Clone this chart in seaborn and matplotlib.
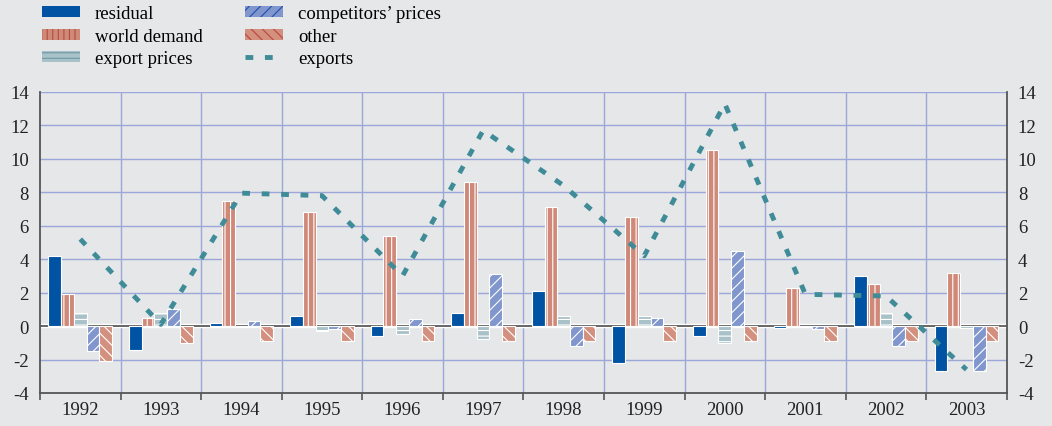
import seaborn as sns
import numpy as np
import pandas as pd
import matplotlib.pyplot as plt
from matplotlib.patches import Patch
from matplotlib.lines import Line2D

years = ['1992', '1993', '1994', '1995', '1996', '1997', '1998', '1999', '2000', '2001', '2002', '2003']
residual = [4.2, -1.4, 0.2, 0.6, -0.6, 0.8, 2.1, -2.2, -0.6, -0.1, 3.0, -2.7]
world_demand = [1.9, 0.5, 7.5, 6.8, 5.4, 8.6, 7.1, 6.5, 10.5, 2.3, 2.5, 3.2]
export_prices = [0.8, 0.8, 0.0, -0.3, -0.5, -0.8, 0.6, 0.6, -1.0, 0.0, 0.8, -0.1]
competitors = [-1.5, 1.0, 0.3, -0.2, 0.4, 3.1, -1.2, 0.5, 4.5, -0.2, -1.2, -2.7]
other = [-2.1, -1.0, -0.9, -0.9, -0.9, -0.9, -0.9, -0.9, -0.9, -0.9, -0.9, -0.9]
exports = [5.2, 0.1, 7.95, 7.8, 3.0, 11.7, 8.4, 4.2, 13.3, 1.9, 1.8, -2.6]

series = ['residual', 'world demand', 'export prices', "competitors\u2019 prices", 'other']
fills = ['#0052a2', '#d08878', '#a9c2c9', '#8096cc', '#d4907f']
hatch_cols = ['#0052a2', '#b04e3e', '#6f99a3', '#1e4fb0', '#b8473a']
hatches = [None, '|||', '---', '///', '\\\\\\']

df = pd.DataFrame({
    'year': years * 5,
    'value': residual + world_demand + export_prices + competitors + other,
    'series': sum([[s] * len(years) for s in series], []),
})

plt.rcParams['font.family'] = ['Liberation Serif', 'DejaVu Serif']
plt.rcParams['hatch.linewidth'] = 0.8

fig = plt.figure(figsize=(10.52, 4.27), dpi=100)
fig.patch.set_facecolor('#e6e7e9')
ax = fig.add_axes([0.038, 0.0773, 0.919, 0.705])
ax.set_facecolor('#e6e7e9')

sns.barplot(data=df, x='year', y='value', hue='series', hue_order=series,
            palette=fills, saturation=1, width=0.79, legend=False, ax=ax,
            zorder=3)

for cont, h, hc in zip(ax.containers, hatches, hatch_cols):
    for p in cont:
        p.set_edgecolor('white')
        p.set_linewidth(0.8)
        p.set_zorder(3)
        if h:
            p.set_hatch(h)
            if hasattr(p, 'set_hatchcolor'):
                p.set_hatchcolor(hc)

dash = (0, (1.6, 2.4))
ax.plot(np.arange(len(years)), exports, color='#3f8c98', lw=3.5,
        linestyle=dash, zorder=4)

ax.set_xlim(-0.5, len(years) - 0.5)
ax.set_ylim(-4, 14)
ax.set_yticks(range(-4, 15, 2))
ax.set_yticklabels([str(v) for v in range(-4, 15, 2)])
ax.set_xlabel('')
ax.set_ylabel('')

for y in range(-2, 15, 2):
    if y != 0:
        ax.axhline(y, color='#9aa7d8', lw=1, zorder=1)
for x in np.arange(0.5, len(years) - 0.5):
    ax.axvline(x, color='#9aa7d8', lw=1, zorder=1)
ax.axhline(0, color='white', lw=3.2, zorder=2)
ax.axhline(0, color='#5a5a5a', lw=1.3, zorder=2.5)

ax.set_xticks(np.arange(len(years)))
ax.set_xticklabels(years)
ax.set_xticks(np.arange(-0.5, len(years)), minor=True)
ax.tick_params(axis='x', which='major', length=0, labelsize=13.5, colors='#222222', pad=6)
ax.tick_params(axis='x', which='minor', length=5, width=1.2, color='#555555')
ax.tick_params(axis='y', length=0, labelsize=13.5, labelleft=True, labelright=True,
               colors='#222222', pad=8)

for side in ['left', 'right', 'bottom']:
    ax.spines[side].set_color('#555555')
    ax.spines[side].set_linewidth(1.3)
ax.spines['top'].set_visible(False)

handles = []
for s, f, h, hc in zip(series, fills, hatches, hatch_cols):
    hp = Patch(facecolor=f, edgecolor=hc if h else f, hatch=h, linewidth=0, label=s)
    handles.append(hp)
handles.append(Line2D([0], [0], color='#3f8c98', lw=3.5, linestyle=dash, label='exports'))

fig.legend(handles=handles, loc='upper left', bbox_to_anchor=(0.024, 1.025), ncol=2,
           frameon=False, fontsize=13.5, handlelength=2.0, handleheight=0.5,
           handletextpad=0.8, columnspacing=2.3, labelspacing=0.3)

fig.savefig('out.png', dpi=100, facecolor=fig.get_facecolor())
